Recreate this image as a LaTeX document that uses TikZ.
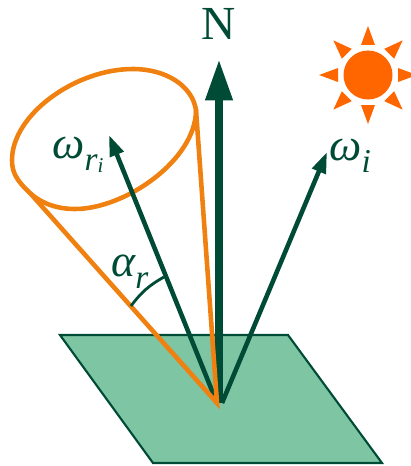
\documentclass[tikz,border=0pt]{standalone}
\usepackage{fontspec}
\setmainfont{Liberation Serif}
\usetikzlibrary{arrows.meta}
\definecolor{darkgreen}{HTML}{004B35}
\definecolor{conecol}{HTML}{F08010}
\definecolor{planecol}{HTML}{7DC5A3}
\definecolor{suncol}{HTML}{FF6600}
\newcommand{\subs}[1]{\raisebox{-0.27em}{\fontsize{19}{19}\selectfont #1}}
\newcommand{\subsub}[1]{\raisebox{-0.32em}{\fontsize{12}{12}\selectfont #1}}
\begin{document}
\begin{tikzpicture}[x=0.02cm, y=-0.02cm,
			lbl/.style={text=darkgreen, inner sep=0pt, font=\fontsize{26}{26}\selectfont\itshape},
			ray/.style={darkgreen, line width=2.6pt, -{Triangle[length=12pt,width=8pt]}},
			cone/.style={conecol, line width=2.6pt}]
			\useasboundingbox (0,0) rectangle (411,466);
			\coordinate (o) at (217,403);
			\coordinate (ntip) at (219,59);
			\coordinate (rtip) at (109,135);
			\coordinate (itip) at (327,152);
			\coordinate (rimr) at (196,110);
			\coordinate (riml) at (30,193);
			\coordinate (arca) at (131,306);
			\coordinate (arcb) at (164,277);
			\draw[darkgreen, fill=planecol, line width=1.2pt] (60,335) -- (288,335) -- (382,463) -- (153,463) -- cycle;
			\draw[cone] (rimr) .. controls (192,85) and (165,69) .. (133,69) .. controls (75,69) and (12,115) .. (12,160) .. controls (12,172) and (16,180) .. (riml) .. controls (42,204) and (58,209) .. (75,209) .. controls (125,209) and (196,160) .. (rimr) -- cycle;
			\draw[ray] (o) -- (rtip);
			\draw[ray] (o) ++(5,0) -- (itip);
			\draw[darkgreen, line width=4.8pt, -{Triangle[length=23.5pt,width=14.5pt]}] (219,403) -- (ntip);
			\draw[cone] (rimr) -- (o) -- (riml);
			\draw[darkgreen, line width=1.6pt] (arca) to[bend left=12] (arcb);
			% sun
			\fill[suncol] (368,75) circle (24.5);
			\foreach \ang in {0,45,...,315}
				\fill[suncol, shift={(368,75)}, rotate=\ang] (30,-7) -- (49,0) -- (30,7) -- cycle;
			\node[lbl, font=\fontsize{27}{27}\selectfont, anchor=base] (n) at (219,40) {N};
			\node[lbl, anchor=base west] (wr) at (52,158) {ω\subs{r}\subsub{i}};
			\node[lbl, anchor=base west] (wi) at (329,160) {ω\subs{i}};
			\node[lbl, anchor=base west] (ar) at (111,276) {α\subs{r}};
		\end{tikzpicture}
\end{document}
